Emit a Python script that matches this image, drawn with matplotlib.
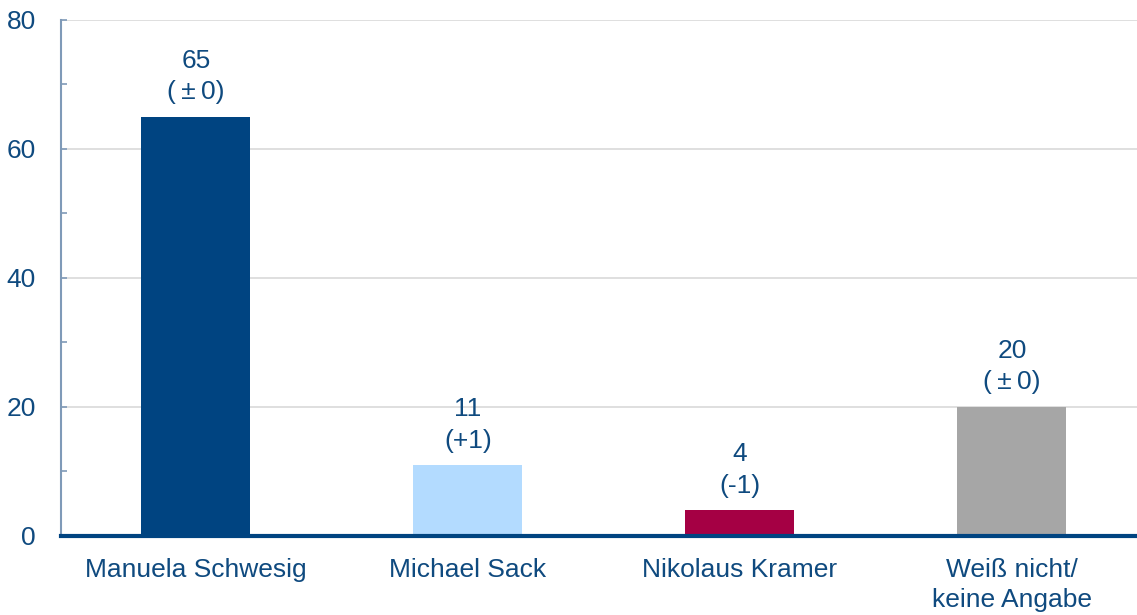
import matplotlib
matplotlib.use('Agg')
import matplotlib.pyplot as plt
import numpy as np

# data
categories = ['Manuela Schwesig', 'Michael Sack', 'Nikolaus Kramer', 'Weiß nicht/\nkeine Angabe']
values = [65, 11, 4, 20]
changes = ['(\u2009±\u20090)', '(+1)', '(-1)', '(\u2009±\u20090)']
barColors = ['#004481', '#b3dbff', '#a50044', '#a6a6a6']

textColor = '#0f4a7f'
fontSize = 19

plt.rcParams['font.family'] = ['Liberation Sans', 'DejaVu Sans']

fig = plt.figure(figsize=(11.37, 6.15), dpi=100)
ax = fig.add_axes([0.0536, 0.1285, 0.9464, 0.839])

x = np.arange(len(categories))
ax.bar(x, values, width=0.4, color=barColors, zorder=3)

for xi, v, ch in zip(x, values, changes):
    ax.annotate(f'{v}\n{ch}', (xi, v), xytext=(0, 9), textcoords='offset points',
                ha='center', va='bottom', fontsize=fontSize, color=textColor,
                linespacing=1.4)

ax.set_xlim(-0.496, 3.46)
ax.set_ylim(0, 80)
ax.set_yticks([0, 20, 40, 60, 80])
ax.set_yticks([10, 30, 50, 70], minor=True)
ax.set_xticks(x)
ax.set_xticklabels(categories, linespacing=1.3)

for y in [20, 40, 60, 80]:
    ax.axhline(y, color='#d9d9d9', linewidth=1.2, zorder=1)

for s in ['top', 'right']:
    ax.spines[s].set_visible(False)
ax.spines['left'].set_color('#7f9ab8')
ax.spines['left'].set_linewidth(1.5)
ax.spines['bottom'].set_color('#004481')
ax.spines['bottom'].set_linewidth(3)
ax.spines['bottom'].set_zorder(4)

ax.tick_params(axis='y', which='both', direction='in', length=4, width=1.2,
               color='#7f9ab8', labelsize=fontSize, labelcolor=textColor, pad=18)
ax.tick_params(axis='x', length=0, labelsize=fontSize, labelcolor=textColor, pad=16)

fig.savefig('out.png', dpi=100)
